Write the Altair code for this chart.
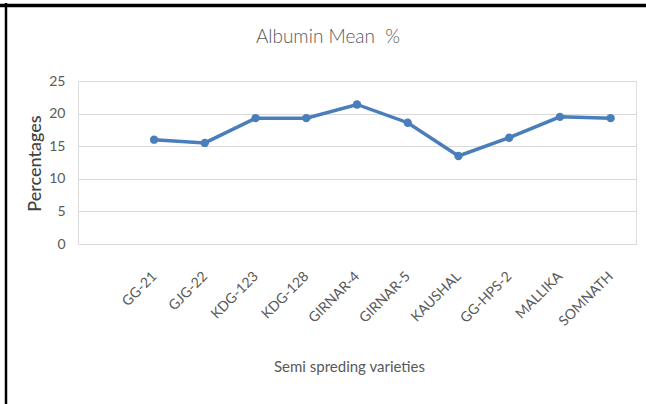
import altair as alt
import pandas as pd

# Albumin mean percentage for the semi spreding varieties
varieties = ["GG-21", "GJG-22", "KDG-123", "KDG-128", "GIRNAR-4",
             "GIRNAR-5", "KAUSHAL", "GG-HPS-2", "MALLIKA", "SOMNATH"]
albumin = [16.0, 15.5, 19.3, 19.3, 21.4, 18.6, 13.5, 16.3, 19.5, 19.3]
y_ticks = [0, 5, 10, 15, 20, 25]
chart_title = "Albumin Mean\u00a0 %"

df = pd.DataFrame({"variety": varieties, "albumin": albumin})

# a leading blank slot on the category axis keeps the first point off the y axis
x_domain = [" "] + varieties

TEXT = "#595959"
LINE = "#4A7EBB"
LABEL_FONT = "Lato, sans-serif"

x_enc = alt.X(
    "variety:N",
    sort=x_domain,
    scale=alt.Scale(type="point", domain=x_domain, padding=0.5),
    axis=alt.Axis(
        title="Semi spreding varieties",
        titleFont=LABEL_FONT, titleFontSize=15, titleFontWeight="normal",
        titleColor=TEXT, titleX=271, titleY=127, titleAnchor="middle",
        titleBaseline="alphabetic",
        labelAngle=-45, labelAlign="right", labelBaseline="middle",
        labelFont=LABEL_FONT, labelFontSize=14, labelColor=TEXT,
        labelPadding=30, ticks=False, domain=False, grid=False,
    ),
)
y_enc = alt.Y(
    "albumin:Q",
    scale=alt.Scale(domain=[0, 25], nice=False, zero=True),
    axis=alt.Axis(
        title="Percentages", values=y_ticks,
        titleFont="Lato", titleFontSize=18, titleFontWeight=500,
        titleColor="#404040", titleX=-38, titleY=82, titleAngle=-90,
        titleAlign="center", titleBaseline="alphabetic",
        labelFont=LABEL_FONT, labelFontSize=14, labelColor=TEXT,
        labelPadding=13, ticks=False, domain=False,
        grid=True, gridColor="#D9D9D9", gridWidth=1,
    ),
)

line = alt.Chart(df).mark_line(
    color=LINE, strokeWidth=3.5,
    point=alt.OverlayMarkDef(filled=True, color=LINE, size=70, opacity=1),
).encode(x=x_enc, y=y_enc)

# chart heading and the frame edges along the top and left of the figure
frame = alt.Data(values=[{"k": 0}])
heading = alt.Chart(frame).mark_text(
    text=chart_title, font="Lato", fontSize=19, fontWeight=300,
    color=TEXT, align="center", baseline="alphabetic",
).encode(x=alt.value(250), y=alt.value(-38))
top_edge = alt.Chart(frame).mark_rule(color="black", strokeWidth=3.5).encode(
    x=alt.value(-78), x2=alt.value(568), y=alt.value(-75.5)
)
left_edge = alt.Chart(frame).mark_rule(color="black", strokeWidth=2.5).encode(
    x=alt.value(-72), y=alt.value(-78), y2=alt.value(323)
)

chart = alt.layer(line, heading, top_edge, left_edge).properties(
    width=558,
    height=163,
    autosize=alt.AutoSizeParams(type="none"),
    padding={"left": 78, "top": 81, "right": 10, "bottom": 160},
).configure_view(stroke=None).configure(background="white")

chart.save("out.html", embed_options={"renderer": "svg", "actions": False})
